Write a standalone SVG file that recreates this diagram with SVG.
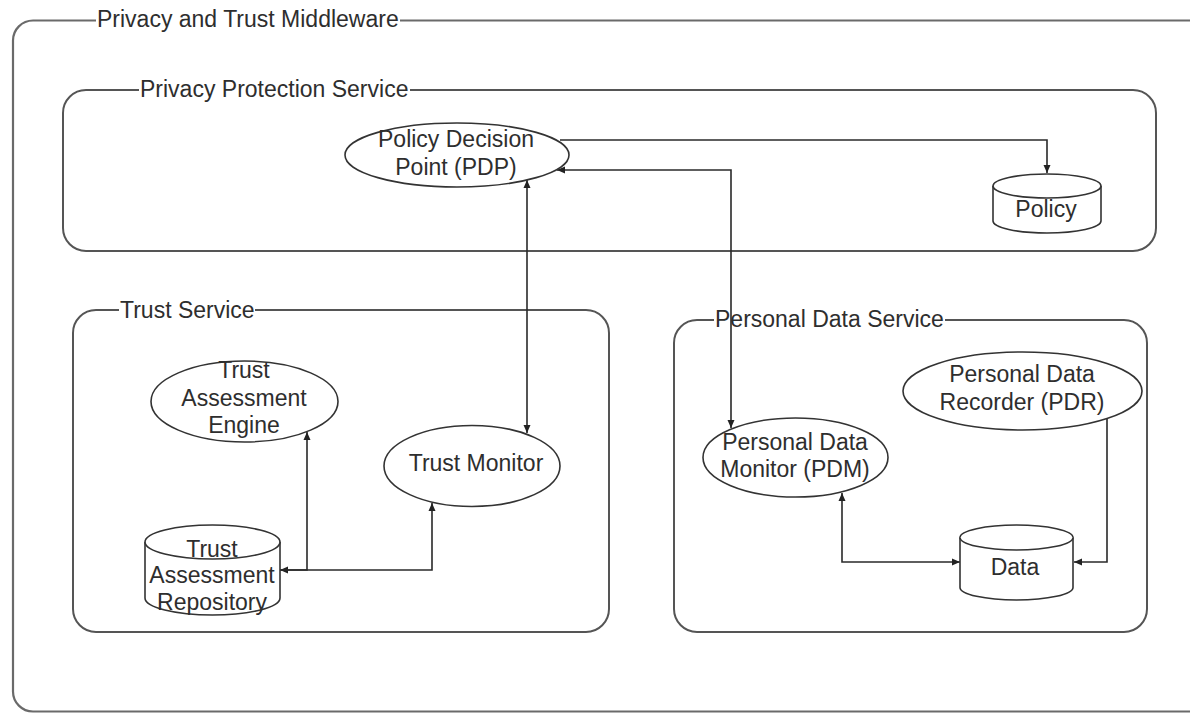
<svg xmlns="http://www.w3.org/2000/svg" width="1190" height="713" viewBox="0 0 1190 713">
<style>
  .container { fill: none; stroke: #555; stroke-width: 2; }
  .outer { fill: none; stroke: #6a6a6a; stroke-width: 2.2; }
  .title-bg { fill: #fff; stroke: none; }
  .shape { fill: #fff; stroke: #333; stroke-width: 1.6; }
  .edge { fill: none; stroke: #2a2a2a; stroke-width: 1.6; }
  text { font-family: "Liberation Sans", Arial, sans-serif; font-size: 23px; fill: #2e2e2e; }
  .c { text-anchor: middle; }
</style>
<defs>
  <marker id="arr" markerUnits="userSpaceOnUse" markerWidth="10" markerHeight="10" viewBox="0 0 10 10" refX="9" refY="5" orient="auto-start-reverse">
    <path d="M1,1.5 L9,5 L1,8.5 Z" fill="#222"/>
  </marker>
</defs>

<g id="middleware">
  <rect class="outer" x="13" y="20.5" width="1200" height="691" rx="20" ry="20"/>
  <rect class="title-bg" x="96" y="10" width="304" height="22"/>
  <text x="97" y="27">Privacy and Trust Middleware</text>
</g>

<g id="privacy-protection-service">
  <rect class="container" x="63" y="90" width="1093" height="161" rx="23" ry="23"/>
  <rect class="title-bg" x="139" y="80" width="271" height="20"/>
  <text x="140" y="97">Privacy Protection Service</text>
</g>

<g id="trust-service">
  <rect class="container" x="73" y="310" width="536" height="322" rx="23" ry="23"/>
  <rect class="title-bg" x="119" y="300" width="136" height="20"/>
  <text x="120" y="318">Trust Service</text>
</g>

<g id="personal-data-service">
  <rect class="container" x="674" y="320" width="473" height="312" rx="23" ry="23"/>
  <rect class="title-bg" x="714" y="310" width="231" height="20"/>
  <text x="715" y="327">Personal Data Service</text>
</g>

<g id="connectors">
  <path class="edge" d="M560,140 H1047 V173" marker-end="url(#arr)"/>
  <path class="edge" d="M557,170 H731 V428" marker-start="url(#arr)" marker-end="url(#arr)"/>
  <path class="edge" d="M527,180 V433" marker-start="url(#arr)" marker-end="url(#arr)"/>
  <path class="edge" d="M280,570 H432 V503" marker-start="url(#arr)" marker-end="url(#arr)"/>
  <path class="edge" d="M280,570 H307 V432" marker-end="url(#arr)"/>
  <path class="edge" d="M842,493 V562 H960" marker-start="url(#arr)" marker-end="url(#arr)"/>
  <path class="edge" d="M1107,419 V562 H1074" marker-end="url(#arr)"/>
</g>

<g id="pdp">
  <ellipse class="shape" cx="457" cy="155" rx="112" ry="32"/>
  <text class="c" x="456" y="147">Policy Decision</text>
  <text class="c" x="456" y="175">Point (PDP)</text>
</g>

<g id="policy">
  <path class="shape" d="M993,186 A54,12 0 0 1 1101,186 L1101,221 A54,12 0 0 1 993,221 Z"/>
  <path class="shape" d="M993,186 A54,12 0 0 0 1101,186"/>
  <text class="c" x="1046" y="217">Policy</text>
</g>

<g id="trust-assessment-engine">
  <ellipse class="shape" cx="244.5" cy="401.5" rx="93.5" ry="40.5"/>
  <text class="c" x="244" y="378">Trust</text>
  <text class="c" x="244" y="406">Assessment</text>
  <text class="c" x="244" y="433">Engine</text>
</g>

<g id="trust-monitor">
  <ellipse class="shape" cx="472" cy="466" rx="88" ry="40.5"/>
  <text class="c" x="476" y="471">Trust Monitor</text>
</g>

<g id="trust-assessment-repository">
  <path class="shape" d="M145,542 A67.5,17 0 0 1 280,542 L280,598 A67.5,17 0 0 1 145,598 Z"/>
  <path class="shape" d="M145,542 A67.5,17 0 0 0 280,542"/>
  <text class="c" x="212" y="557">Trust</text>
  <text class="c" x="212" y="583">Assessment</text>
  <text class="c" x="212" y="610">Repository</text>
</g>

<g id="pdm">
  <ellipse class="shape" cx="795.5" cy="457.5" rx="92.5" ry="39.5"/>
  <text class="c" x="795" y="450">Personal Data</text>
  <text class="c" x="795" y="477">Monitor (PDM)</text>
</g>

<g id="pdr">
  <ellipse class="shape" cx="1022.5" cy="391" rx="119.5" ry="39"/>
  <text class="c" x="1022" y="382">Personal Data</text>
  <text class="c" x="1022" y="410">Recorder (PDR)</text>
</g>

<g id="data">
  <path class="shape" d="M960,537.5 A56.5,12.5 0 0 1 1073,537.5 L1073,587.5 A56.5,12.5 0 0 1 960,587.5 Z"/>
  <path class="shape" d="M960,537.5 A56.5,12.5 0 0 0 1073,537.5"/>
  <text class="c" x="1015" y="575">Data</text>
</g>
</svg>
